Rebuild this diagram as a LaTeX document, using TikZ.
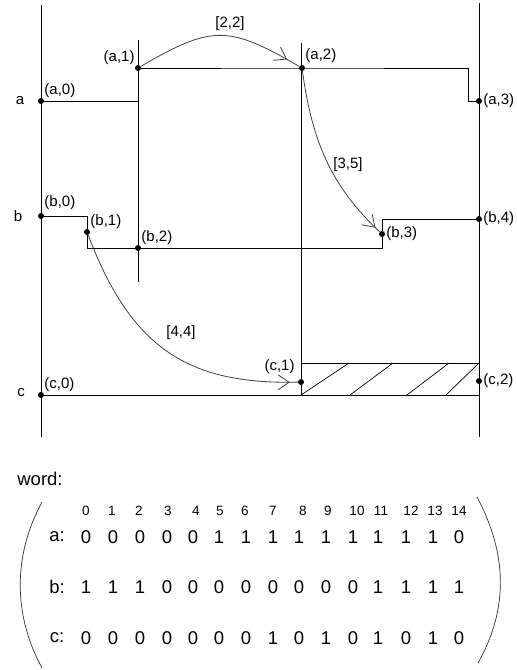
\documentclass[tikz,border=0pt]{standalone}
\usepackage{fontspec}
\setmainfont{Liberation Sans}
\usetikzlibrary{arrows.meta, decorations.markings}
\tikzset{
  dot/.style={circle, fill=black, inner sep=0pt, minimum size=6pt},
  tag/.style={font=\fontsize{15}{17}\selectfont, inner sep=1pt},
  rowtag/.style={font=\fontsize{15}{17}\selectfont},
  bit/.style={font=\fontsize{18.5}{20}\selectfont, inner sep=0pt},
  idx/.style={font=\fontsize{13.5}{15}\selectfont, inner sep=0pt},
  sig/.style={line width=0.8pt},
  rail/.style={line width=0.8pt},
  hatch/.style={line width=0.7pt},
  flow/.style={line width=0.8pt, color=black!75, postaction={decorate},
    decoration={markings, mark=at position #1 with
      {\arrow[black!75, line width=0.8pt]{Straight Barb[length=11pt, width=15pt]}}}},
  flow/.default=-8pt
}

\begin{document}
\begin{tikzpicture}[x=1pt, y=-1pt]
  \useasboundingbox (0,0) rectangle (517,670);

  % time rails
  \draw[rail] (41,5) -- (41,437);
  \draw[rail] (138,40) -- (138,282);
  \draw[rail] (301,43) -- (301,395);
  \draw[rail] (479,3) -- (479,437);

  % signal names
  \node[rowtag] (na) at (20,101) {a};
  \node[rowtag] (nb) at (18,216) {b};
  \node[rowtag] (nc) at (21,393) {c};

  % events
  \node[dot, label={[tag]above right:(a,0)}] (a0) at (41,101) {};
  \node[dot, label={[tag]above left:(a,1)}] (a1) at (138,68) {};
  \node[dot, label={[tag, yshift=2pt]above right:(a,2)}] (a2) at (302,68) {};
  \node[dot, label={[tag]right:(a,3)}] (a3) at (479,101) {};
  \node[dot, label={[tag, yshift=3pt]above right:(b,0)}] (b0) at (41,216) {};
  \node[dot, label={[tag]above right:(b,1)}] (b1) at (87,232) {};
  \node[dot, label={[tag]above right:(b,2)}] (b2) at (138,248) {};
  \node[dot, label={[tag]right:(b,3)}] (b3) at (382,234) {};
  \node[dot, label={[tag]right:(b,4)}] (b4) at (479,219) {};
  \node[dot, label={[tag]above right:(c,0)}] (c0) at (41,395) {};
  \node[dot, label={[tag, xshift=-3pt, yshift=5pt]above left:(c,1)}] (c1) at (301,382) {};
  \node[dot, label={[tag]right:(c,2)}] (c2) at (479,381) {};

  % waveforms
  \draw[sig] (a0.center) -- (a1.center |- a0.center) -- (a1.center) -- (a2.center)
    -- (468,68) -- (468,101) -- (a3.center);
  \draw[sig] (b0.center) -- (b1.center |- b0.center) -- (b1.center |- b2.center)
    -- (b3.center |- b2.center) -- (b3.center |- b4.center) -- (b4.center);
  \draw[sig] (c0.center) -- (c2.center |- c0.center);
  \draw[sig] (c1.center |- 0,363) rectangle (c2.center |- c0.center);
  \foreach \xa/\xb in {301/349, 350/393, 407/449, 446/479}
    \draw[hatch] (\xa,395) -- (\xb,363);

  % intervals
  \draw[flow=-14pt] (a1) .. controls (212,25) and (228,25) .. (a2);
  \draw[flow=-6pt] (a2) .. controls (312,140) and (330,185) .. (b3);
  \draw[flow=-8pt] (b1) .. controls (130,345) and (185,385) .. (c1);
  \node[tag] (i22) at (230,24) {[2,2]};
  \node[tag] (i35) at (348,165) {[3,5]};
  \node[tag] (i44) at (181,333) {[4,4]};

  % word matrix
  \node[font=\fontsize{18.5}{20}\selectfont] (word) at (40,479) {word:};
  \draw[line width=0.7pt, black!80] (42,502) .. controls (13,555) and (13,615) .. (42,668);
  \draw[line width=0.7pt, black!80] (477,497) .. controls (508,555) and (508,610) .. (478,663);
  \node[bit] (ra) at (57,537) {a:};
  \node[bit] (rb) at (57,587) {b:};
  \node[bit] (rc) at (57,638) {c:};
  \foreach \x [count=\i from 0] in {86,112,139,168,196,220,245,273,303,328,357,381,411,435,459}
    \node[idx] (k\i) at (\x,511) {\i};
  \foreach \x/\va/\vb/\vc [count=\i from 0] in {86/0/1/0, 113/0/1/0, 140/0/1/0, 167/0/0/0,
      193/0/0/0, 219/1/0/0, 246/1/0/0, 273/1/0/1, 299/1/0/0, 326/1/0/1, 353/1/0/0,
      378/1/1/1, 406/1/1/0, 433/1/1/1, 459/0/1/0}{
    \node[bit] (wa\i) at (\x,537) {\va};
    \node[bit] (wb\i) at (\x,587) {\vb};
    \node[bit] (wc\i) at (\x,638) {\vc};
  }
\end{tikzpicture}
\end{document}
